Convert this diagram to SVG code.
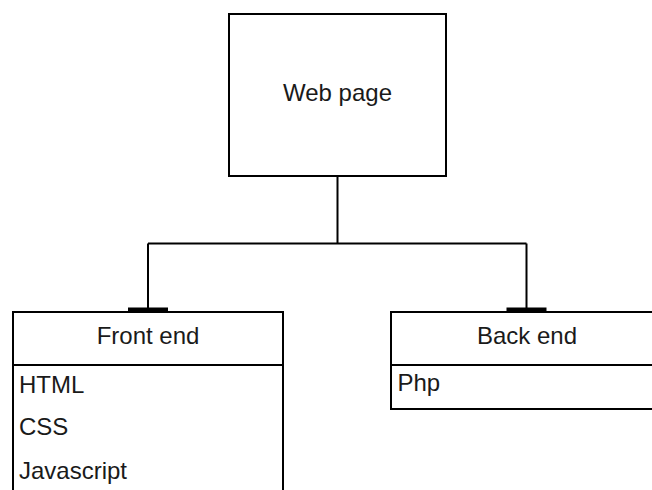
<svg xmlns="http://www.w3.org/2000/svg" width="652" height="490" viewBox="0 0 652 490">
  <style>
    .box { fill: #ffffff; stroke: #000000; stroke-width: 2; }
    .div { stroke: #000000; stroke-width: 2; fill: none; }
    .wire { stroke: #000000; stroke-width: 2; fill: none; }
    .bar { fill: #000000; }
    .lbl { font-family: "Liberation Sans", Arial, sans-serif; font-size: 24px; fill: #1a1a1a; }
    .mid { text-anchor: middle; }
  </style>
  <rect width="652" height="490" fill="#ffffff"/>

  <g id="connectors">
    <path class="wire" d="M337.5,177 V243.5 M148,243.5 H526.5 M148,243.5 V308 M526.5,243.5 V308"/>
    <rect class="bar" x="128" y="307.5" width="40" height="4"/>
    <rect class="bar" x="506.5" y="307.5" width="40" height="4"/>
  </g>

  <g id="web-page">
    <rect class="box" x="229" y="14" width="217" height="162"/>
    <text class="lbl mid" x="337.5" y="101">Web page</text>
  </g>

  <g id="front-end">
    <rect class="box" x="13" y="312" width="270" height="190"/>
    <line class="div" x1="13" y1="365" x2="283" y2="365"/>
    <text class="lbl mid" x="148" y="344">Front end</text>
    <text class="lbl" x="19" y="393">HTML</text>
    <text class="lbl" x="19" y="435">CSS</text>
    <text class="lbl" x="19" y="479">Javascript</text>
  </g>

  <g id="back-end">
    <rect class="box" x="391" y="312" width="271" height="97"/>
    <line class="div" x1="391" y1="365" x2="662" y2="365"/>
    <text class="lbl mid" x="527" y="343.5">Back end</text>
    <text class="lbl" x="397.5" y="391">Php</text>
  </g>
</svg>
